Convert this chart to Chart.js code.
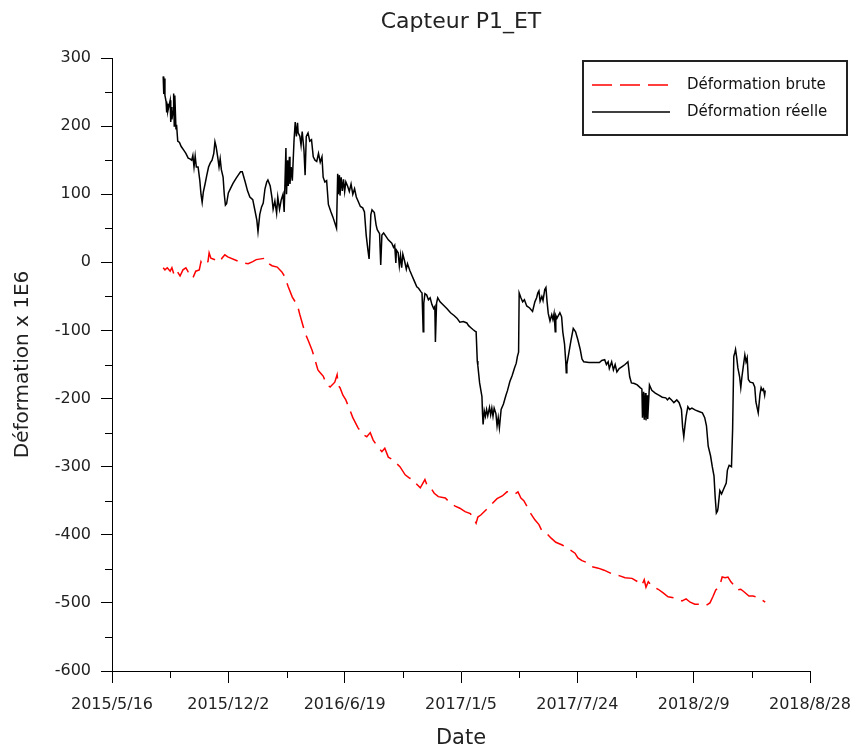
<!DOCTYPE html>
<html>
<head>
<meta charset="utf-8">
<title>Capteur P1_ET</title>
<script src="https://cdn.jsdelivr.net/npm/chart.js@4.4.1/dist/chart.umd.min.js"></script>
<style>
  html, body { margin: 0; padding: 0; background: #fff; }
  canvas { display: block; }
</style>
</head>
<body>
<canvas id="graphe" width="856" height="751"></canvas>
<script>
// jours comptés depuis le 2015/5/16
const joursReelle = [
  88, 89, 90, 91, 93, 94, 95, 96, 100, 101, 102, 103, 105, 106, 107, 108, 110, 111, 113, 116,
  119, 123, 127, 131, 134, 137, 139, 141, 143, 145, 148, 151, 153, 155, 157, 160, 163, 166, 169, 172,
  175, 177, 179, 182, 184, 186, 188, 191, 193, 195, 197, 200, 204, 208, 213, 217, 221, 224, 229, 233,
  237, 242, 246, 249, 251, 254, 257, 260, 263, 266, 268, 272, 275, 277, 280, 283, 285, 288, 291, 294,
  296, 299, 300, 302, 303, 305, 306, 308, 310, 313, 315, 317, 319, 320, 323, 325, 327, 330, 332, 334,
  337, 340, 343, 346, 349, 352, 355, 358, 361, 363, 366, 369, 372, 376, 380, 386, 388, 389, 391, 392,
  394, 396, 398, 400, 402, 405, 408, 411, 414, 417, 420, 423, 427, 431, 434, 437, 440, 442, 445, 447,
  451, 454, 456, 460, 462, 464, 467, 471, 475, 481, 484, 486, 488, 489, 492, 494, 496, 498, 500, 503,
  506, 508, 512, 516, 520, 524, 527, 531, 533, 535, 536, 538, 541, 544, 547, 550, 553, 555, 556, 558,
  560, 564, 570, 576, 582, 588, 593, 598, 604, 610, 613, 617, 621, 624, 626, 628, 629, 632, 636, 637,
  638, 640, 642, 644, 646, 649, 651, 653, 655, 657, 660, 662, 664, 666, 669, 673, 677, 680, 684, 688,
  692, 695, 697, 699, 700, 703, 706, 709, 713, 718, 723, 727, 730, 732, 734, 736, 739, 741, 744, 746,
  748, 750, 753, 756, 758, 760, 762, 763, 765, 770, 773, 775, 778, 780, 781, 782, 785, 789, 793, 797,
  801, 805, 808, 811, 820, 830, 838, 842, 847, 850, 853, 855, 859, 862, 865, 868, 872, 877, 882, 887,
  890, 893, 898, 903, 908, 911, 912, 914, 915, 917, 918, 920, 921, 924, 928, 934, 940, 946, 952, 955,
  958, 962, 966, 971, 975, 979, 981, 983, 985, 987, 990, 993, 997, 1003, 1009, 1015, 1019, 1022, 1025, 1029,
  1032, 1035, 1037, 1039, 1041, 1042, 1045, 1048, 1051, 1056, 1058, 1061, 1065, 1067, 1069, 1071, 1072, 1074, 1076, 1079,
  1081, 1083, 1085, 1088, 1090, 1092, 1094, 1097, 1102, 1105, 1107, 1109, 1111, 1114, 1116, 1118, 1120, 1122, 1123
];
const reelle = [
  273, 247, 270, 245, 236, 220, 233, 222, 238, 206, 228, 210, 222, 248, 200, 245, 195, 202, 178, 176,
  170, 165, 160, 153, 152, 150, 157, 140, 156, 140, 140, 120, 100, 88, 103, 115, 128, 140, 146, 150,
  160, 177, 170, 153, 140, 152, 136, 125, 100, 84, 86, 102, 109, 116, 123, 128, 133, 133, 118, 105,
  96, 92, 75, 62, 45, 70, 81, 87, 108, 118, 121, 112, 95, 78, 90, 72, 96, 78, 92, 100,
  74, 168, 100, 150, 112, 155, 115, 140, 120, 180, 206, 185, 205, 190, 185, 172, 192, 165, 128, 185,
  190, 178, 180, 155, 150, 148, 160, 147, 155, 125, 118, 120, 85, 75, 66, 50, 130, 100, 128, 98,
  125, 105, 122, 104, 118, 112, 104, 115, 100, 108, 96, 90, 82, 80, 74, 40, 18, 5, 70, 77,
  73, 55, 48, 42, -4, 40, 43, 38, 33, 28, 22, 25, -1, 18, 14, -5, 10, -8, 12, 2,
  -10, -2, -12, -20, -28, -36, -38, -43, -45, -102, -60, -46, -48, -55, -52, -62, -68, -65, -117, -60,
  -52, -58, -63, -68, -74, -78, -82, -88, -87, -89, -93, -96, -99, -101, -102, -145, -152, -177, -197, -222,
  -238, -218, -226, -216, -225, -213, -224, -214, -226, -214, -222, -240, -228, -243, -216, -208, -196, -188, -175, -166,
  -155, -148, -138, -132, -45, -52, -58, -55, -64, -67, -72, -58, -52, -45, -42, -57, -50, -56, -40, -37,
  -58, -75, -86, -77, -84, -75, -102, -78, -82, -74, -80, -102, -120, -145, -162, -150, -135, -115, -97, -102,
  -114, -128, -142, -146, -147, -147, -147, -144, -143, -150, -146, -156, -146, -158, -150, -161, -156, -153, -150, -146,
  -168, -177, -178, -180, -184, -186, -228, -190, -231, -192, -232, -195, -230, -180, -188, -192, -195, -198, -199, -202,
  -199, -202, -206, -202, -206, -216, -242, -256, -240, -226, -212, -216, -214, -217, -219, -221, -228, -240, -270, -284,
  -300, -314, -345, -368, -365, -360, -335, -340, -334, -324, -305, -298, -300, -244, -138, -132, -128, -140, -155, -168,
  -184, -168, -155, -136, -146, -140, -172, -176, -177, -183, -205, -213, -221, -194, -184, -188, -186, -195, -188
];
const joursBrute = [
  88, 91, 95, 100, 103, 107, 112, 117, 122, 127, 131, 136, 139, 144, 150, 153, 156, 165, 167, 170,
  186, 189, 194, 199, 224, 234, 242, 248, 263, 268, 275, 284, 292, 297, 303, 310, 315, 320, 323, 328,
  332, 337, 344, 349, 354, 358, 363, 366, 370, 375, 383, 387, 389, 392, 397, 402, 409, 414, 423, 432,
  438, 444, 449, 457, 464, 469, 475, 483, 490, 495, 504, 512, 518, 523, 530, 538, 542, 547, 554, 561,
  573, 581, 590, 598, 607, 616, 621, 626, 629, 634, 646, 655, 662, 671, 679, 686, 693, 698, 703, 708,
  714, 720, 727, 734, 739, 746, 755, 763, 774, 782, 787, 796, 801, 808, 817, 825, 836, 846, 856, 863,
  872, 882, 894, 904, 911, 915, 918, 922, 928, 939, 947, 956, 968, 980, 987, 994, 1002, 1011, 1021, 1028,
  1033, 1038, 1042, 1045, 1049, 1054, 1059, 1064, 1069, 1075, 1081, 1087, 1095, 1102, 1107, 1112, 1118, 1123
];
const brute = [
  -8, -11, -8, -13, -8, -19, -13, -20, -11, -8, -14, -19, -23, -13, -11, 1, -4, 1, 14, 6,
  1, 6, 11, 8, -1, -2, 1, 4, 6, -1, -5, -7, -14, -21, -36, -51, -58, -67, -77, -92,
  -104, -114, -129, -143, -158, -162, -167, -173, -180, -183, -176, -165, -181, -184, -195, -202, -217, -228, -243, -253,
  -256, -250, -261, -271, -278, -273, -286, -290, -296, -300, -312, -317, -319, -325, -331, -319, -328, -330, -339, -344,
  -346, -353, -358, -361, -366, -369, -374, -383, -374, -371, -361, -353, -347, -343, -337, -337, -340, -337, -346, -350,
  -359, -369, -378, -385, -394, -397, -405, -411, -415, -419, -422, -427, -434, -438, -441, -447, -449, -452, -456, -459,
  -460, -463, -464, -469, -474, -466, -477, -469, -475, -480, -485, -491, -493, -497, -494, -499, -502, -502, -504, -500,
  -491, -481, -478, -474, -462, -463, -462, -469, -474, -481, -480, -484, -490, -490, -491, -493, -496, -499
];

// axes
const datesAxe = ['2015/5/16', '2015/12/2', '2016/6/19', '2017/1/5', '2017/7/24', '2018/2/9', '2018/8/28'];
const xMin = 0, xMax = 1200, pasX = 200;
const yMin = -600, yMax = 300, pasY = 100;

const police = 'DejaVu Sans';

const points = (xs, ys) => xs.map((x, i) => ({ x, y: ys[i] }));

// graduations intermédiaires, plus courtes que les principales
const petitesGraduations = {
  id: 'petitesGraduations',
  afterDraw(chart) {
    const { ctx, scales: { x, y } } = chart;
    ctx.save();
    ctx.strokeStyle = '#000';
    ctx.lineWidth = 1;
    ctx.beginPath();
    for (let v = yMin + pasY / 2; v < yMax; v += pasY) {
      const py = Math.round(y.getPixelForValue(v)) + 0.5;
      ctx.moveTo(x.left - 7, py);
      ctx.lineTo(x.left, py);
    }
    for (let d = xMin + pasX / 2; d < xMax; d += pasX) {
      const px = Math.round(x.getPixelForValue(d)) + 0.5;
      ctx.moveTo(px, y.bottom);
      ctx.lineTo(px, y.bottom + 7);
    }
    ctx.stroke();
    ctx.restore();
  }
};

// légende encadrée en haut à droite
const legende = {
  id: 'legende',
  afterDraw(chart) {
    const ctx = chart.ctx;
    const series = chart.data.datasets;
    ctx.save();
    ctx.fillStyle = '#fff';
    ctx.fillRect(583, 61, 264, 74);
    ctx.strokeStyle = '#222';
    ctx.lineWidth = 2;
    ctx.strokeRect(583, 61, 264, 74);
    ctx.font = '15px "' + police + '"';
    ctx.textBaseline = 'middle';
    series.forEach((ds, i) => {
      const yy = 85 + i * 27;
      ctx.strokeStyle = ds.borderColor;
      ctx.lineWidth = 1.6;
      ctx.setLineDash(ds.borderDash || []);
      ctx.beginPath();
      ctx.moveTo(592, yy);
      ctx.lineTo(670, yy);
      ctx.stroke();
      ctx.setLineDash([]);
      ctx.fillStyle = '#111';
      ctx.fillText(ds.label, 687, yy);
    });
    ctx.restore();
  }
};

new Chart(document.getElementById('graphe'), {
  type: 'line',
  data: {
    datasets: [
      {
        label: 'Déformation brute',
        data: points(joursBrute, brute),
        borderColor: '#ff0000',
        borderWidth: 1.5,
        borderDash: [20, 8],
        pointRadius: 0,
        tension: 0
      },
      {
        label: 'Déformation réelle',
        data: points(joursReelle, reelle),
        borderColor: '#000000',
        borderWidth: 1.5,
        pointRadius: 0,
        tension: 0
      }
    ]
  },
  options: {
    responsive: false,
    animation: false,
    devicePixelRatio: 1,
    layout: { padding: { left: 0, right: 46, top: 0, bottom: 0 } },
    scales: {
      x: {
        type: 'linear',
        min: xMin,
        max: xMax,
        afterFit: (scale) => {
          scale.height = 80;
          // les étiquettes extrêmes débordent dans les marges, sans réduire la zone de tracé
          scale.paddingLeft = 0;
          scale.paddingRight = 0;
        },
        border: { display: true, color: '#000', width: 1 },
        grid: { drawOnChartArea: false, drawTicks: true, tickLength: 12, color: '#000' },
        ticks: {
          stepSize: pasX,
          autoSkip: false,
          maxRotation: 0,
          padding: 12,
          color: '#222',
          font: { family: police, size: 16 },
          callback: (v) => datesAxe[Math.round((v - xMin) / pasX)]
        },
        title: {
          display: true,
          text: 'Date',
          color: '#222',
          font: { family: police, size: 21 },
          padding: 0
        }
      },
      y: {
        min: yMin,
        max: yMax,
        afterFit: (scale) => { scale.width = 112; },
        border: { display: true, color: '#000', width: 1 },
        grid: { drawOnChartArea: false, drawTicks: true, tickLength: 11, color: '#000' },
        ticks: {
          stepSize: pasY,
          padding: 10,
          color: '#222',
          font: { family: police, size: 16 }
        },
        title: {
          display: true,
          text: 'Déformation x 1E6',
          color: '#222',
          font: { family: police, size: 20 },
          padding: 11
        }
      }
    },
    plugins: {
      legend: { display: false },
      tooltip: { enabled: false },
      title: {
        display: true,
        text: 'Capteur P1_ET',
        fullSize: false,
        color: '#222',
        font: { family: police, size: 22, weight: 'normal' },
        padding: { top: 9.5, bottom: 22.1 }
      }
    }
  },
  plugins: [petitesGraduations, legende]
});
</script>
</body>
</html>
